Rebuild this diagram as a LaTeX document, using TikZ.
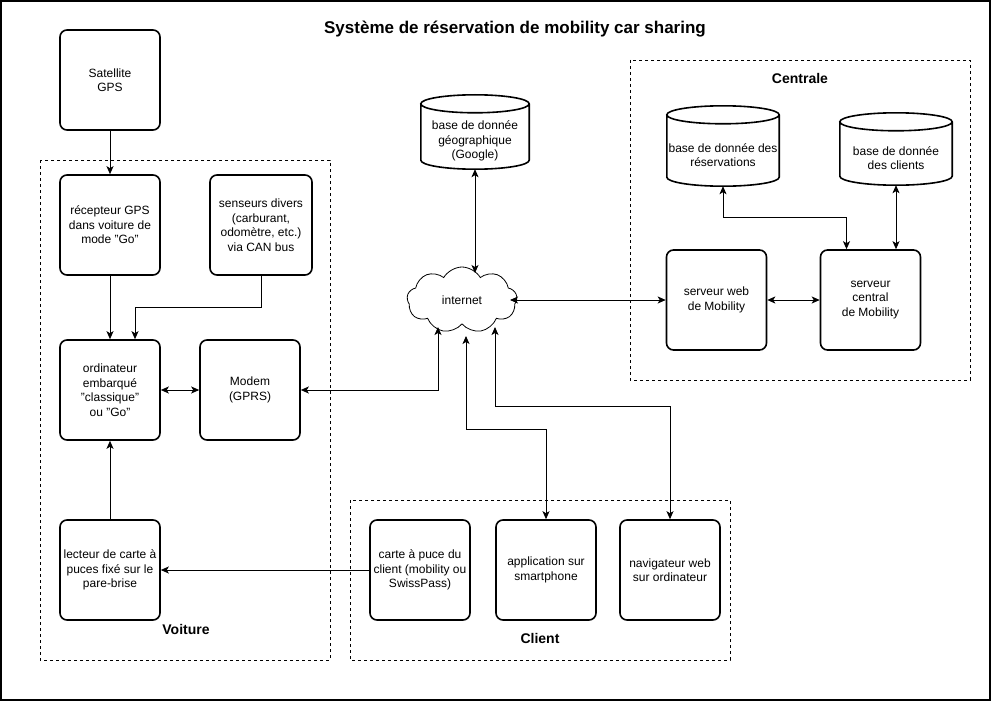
\documentclass[tikz,border=0pt]{standalone}
\usepackage{fontspec}
\setmainfont{Liberation Sans}
\usetikzlibrary{shapes.symbols,arrows.meta,calc}
\newcommand\dbcyl[1]{%
  \draw[cylline] let \p1=(#1.north west), \p2=(#1.south east) in
    (\x1,\y1+9pt) -- (\x1,\y2+9pt)
    arc[start angle=180,end angle=360,x radius={(\x2-\x1)/2},y radius=9pt]
    -- (\x2,\y1+9pt)
    arc[start angle=0,end angle=180,x radius={(\x2-\x1)/2},y radius=9pt]
    arc[start angle=180,end angle=360,x radius={(\x2-\x1)/2},y radius=9pt];}
\begin{document}
\begin{tikzpicture}[x=1pt,y=-1pt,
  txt/.style={font=\fontsize{12}{14.5}\selectfont,align=center},
  box/.style={txt,draw,line width=1.6pt,rounded corners=7pt,minimum width=100pt,minimum height=100pt,inner sep=2pt},
  dbnode/.style={txt,inner sep=0pt},
  cylline/.style={line width=1.6pt},
  group/.style={draw,line width=0.8pt,dash pattern=on 3pt off 3pt},
  grouplabel/.style={font=\fontsize{14}{16}\selectfont\bfseries},
  arr/.style={line width=0.9pt,-{Stealth[length=8pt,width=7pt,inset=2pt]}},
  arr2/.style={line width=0.9pt,{Stealth[length=8pt,width=7pt,inset=2pt]}-{Stealth[length=8pt,width=7pt,inset=2pt]}}]
\fill[white] (0,0) rectangle (991,701);
\draw[line width=2pt] (1,1) rectangle (990,700);

\node[font=\fontsize{17}{19}\selectfont\bfseries] (title) at (515,29) {Système de réservation de mobility car sharing};

% groups
\draw[group] (40,160) rectangle (330,660);
\draw[group] (630,60) rectangle (970,380);
\draw[group] (350,500) rectangle (730,660);
\node[grouplabel] (lvoit) at (186,629) {Voiture};
\node[grouplabel] (lcent) at (800,78) {Centrale};
\node[grouplabel] (lcli) at (540,638) {Client};

% boxes
\node[box] (sat) at (110,80) {Satellite\\GPS};
\node[box] (gps) at (110,225) {récepteur GPS\\dans voiture de\\mode "Go"};
\node[box,minimum width=102pt] (sens) at (261,225) {senseurs divers\\(carburant,\\odomètre, etc.)\\via CAN bus};
\node[box] (ord) at (110,390) {ordinateur\\embarqué\\"classique"\\ou "Go"};
\node[box] (modem) at (250,390) {Modem\\(GPRS)};
\node[box] (lect) at (110,570) {lecteur de carte à\\puces fixé sur le\\pare-brise};
\node[box] (carte) at (420,570) {carte à puce du\\client (mobility ou\\SwissPass)};
\node[box] (app) at (546,570) {application sur\\smartphone};
\node[box] (nav) at (670,570) {navigateur web\\sur ordinateur};
\node[box] (web) at (716.5,300) {serveur web\\de Mobility};
\node[box] (central) at (870.5,300) {serveur\\central\\de Mobility};

% databases
\node[dbnode,minimum width=108pt,minimum height=56pt] (geo) at (475,141) {base de donnée\\géographique\\(Google)};
\dbcyl{geo}
\node[dbnode,minimum width=112pt,minimum height=62pt] (resa) at (723,155) {base de donnée des\\réservations};
\dbcyl{resa}
\node[dbnode,minimum width=112pt,minimum height=54pt] (cli) at (896,158) {base de donnée\\des clients};
\dbcyl{cli}

% cloud
\node[txt,draw,line width=0.8pt,cloud,cloud puffs=9,cloud puff arc=120,cloud ignores aspect,minimum width=110pt,minimum height=66pt] (inet) at (462,300) {internet};
\coordinate (inGeo) at (475,273);
\coordinate (inWeb) at (510,300);
\coordinate (inModem) at (438,327);
\coordinate (inApp) at (466,336);
\coordinate (inNav) at (495,327);

% connectors
\draw[arr] (sat) -- (gps);
\draw[arr] (gps) -- (ord);
\draw[arr] (sens.south) -- ++(0,32) -| ([xshift=25pt]ord.north);
\draw[arr2] (ord) -- (modem);
\draw[arr] (lect) -- (ord);
\draw[arr] (carte) -- (lect);
\draw[arr2] (modem.east) -| (inModem);
\draw[arr2] (inGeo) -- (geo.south);
\draw[arr2] (inWeb) -- (web.west);
\draw[arr2] (web) -- (central);
\draw[arr2] ([xshift=-24pt]central.north) -- ++(0,-32) -| (resa.south);
\draw[arr2] (cli.south) -- (cli.south |- central.north);
\draw[arr2] (inApp) |- ([yshift=90pt]app.north) -- (app.north);
\draw[arr2] (inNav) |- ([yshift=113pt]nav.north) -- (nav.north);
\end{tikzpicture}
\end{document}
